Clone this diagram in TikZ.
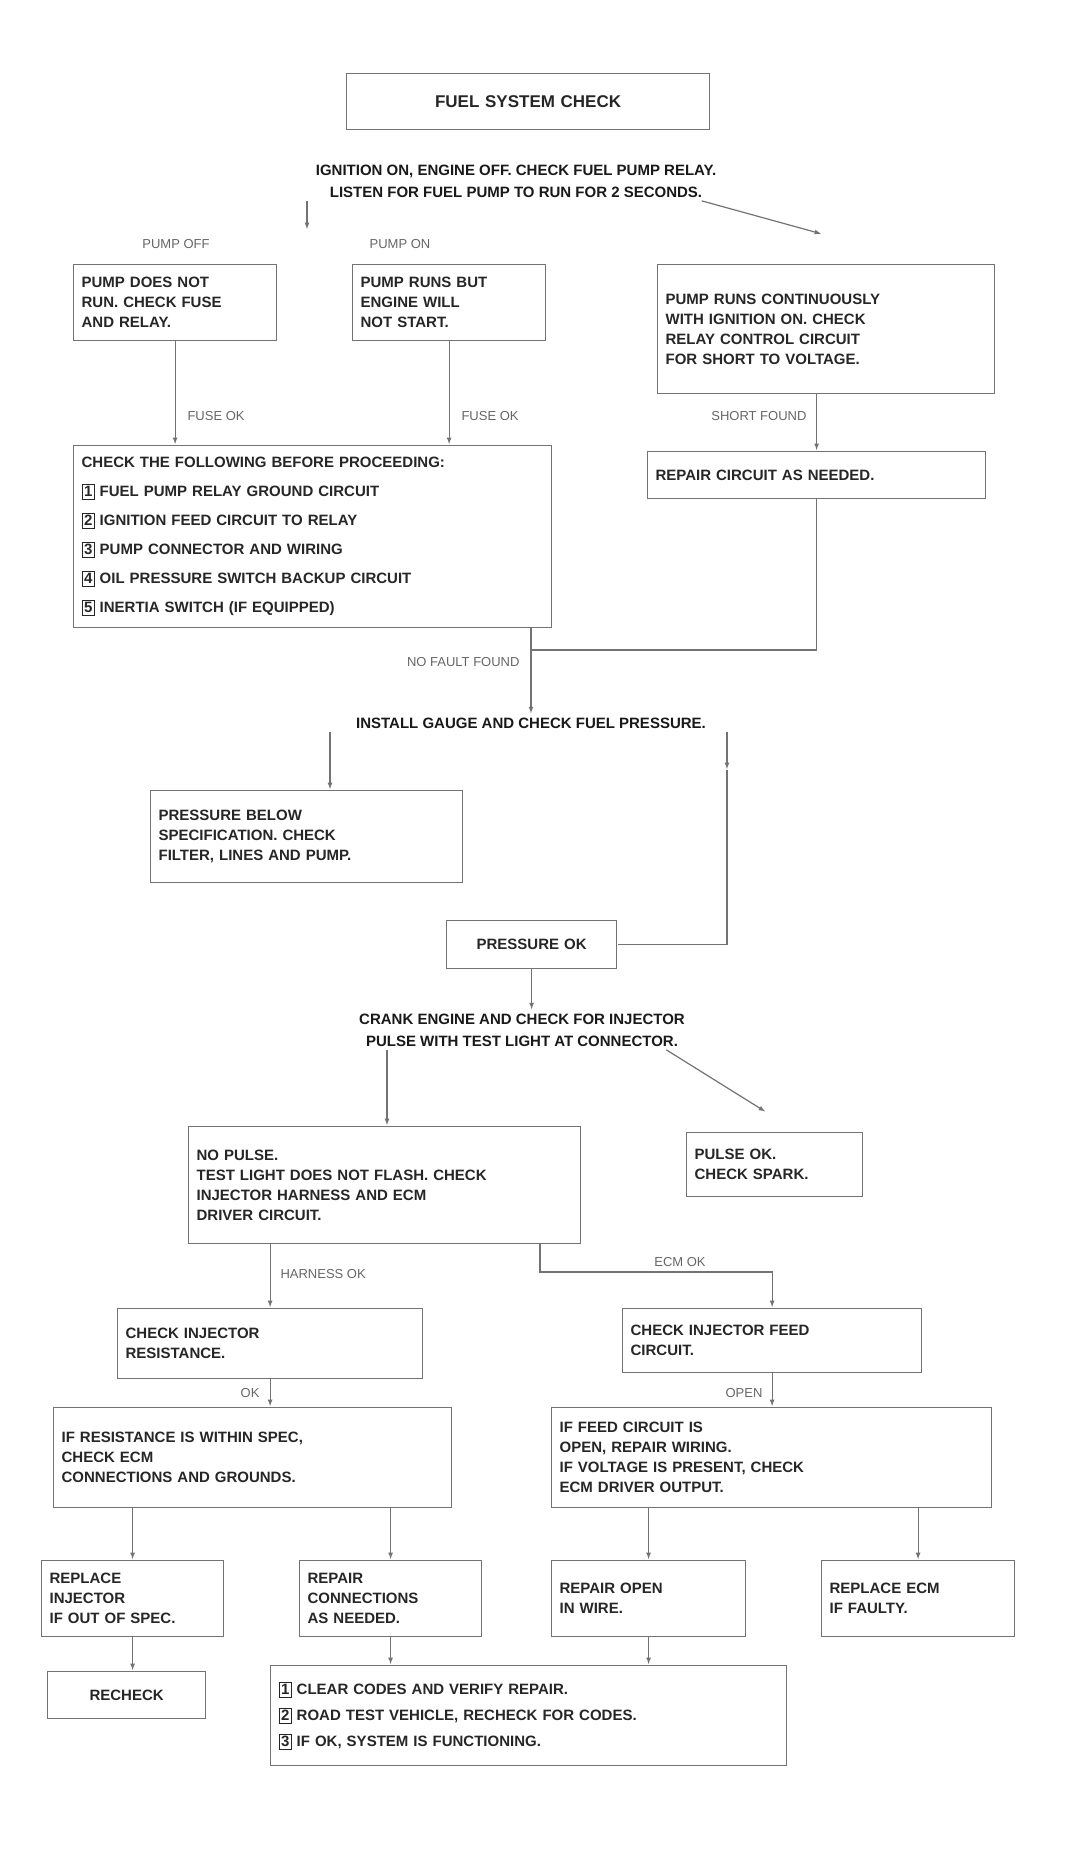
\documentclass[tikz,border=0pt]{standalone}
\usepackage{fontspec}
\setmainfont{Liberation Sans}
\usetikzlibrary{positioning}
\setlength{\fboxsep}{2pt}

\begin{document}
\begin{tikzpicture}[x=1pt,y=-1pt,>=latex,shorten >=1pt,
   box/.style={draw=black!55,line width=1.2pt,anchor=north west,align=left,inner xsep=8pt,inner ysep=5pt,
     font=\bfseries\fontsize{15}{20}\selectfont,text=black!85},
   ask/.style={align=center,font=\bfseries\fontsize{15}{22}\selectfont,text=black!90},
   tag/.style={font=\fontsize{13}{16}\selectfont,text=black!60},
   wire/.style={draw=black!55,line width=1.2pt}]
   \useasboundingbox (0,0) rectangle (1073,1873);

   \node[box,align=center,font=\bfseries\fontsize{17}{20}\selectfont,text width=347pt,minimum height=56pt] (title) at (346,73) {FUEL SYSTEM CHECK};
   \node[ask] (q1) at (516,181) {IGNITION ON, ENGINE OFF. CHECK FUEL PUMP RELAY.\\ LISTEN FOR FUEL PUMP TO RUN FOR 2 SECONDS.};

   % first row
   \node[tag] (t1) at (176,244) {PUMP OFF};
   \node[tag] (t2) at (400,244) {PUMP ON};
   \node[box,text width=187pt,minimum height=76pt] (b1) at (73,264) {PUMP DOES NOT\\ RUN. CHECK FUSE\\ AND RELAY.};
   \node[box,text width=177pt,minimum height=76pt] (b2) at (352,264) {PUMP RUNS BUT\\ ENGINE WILL\\ NOT START.};
   \node[box,text width=321pt,minimum height=129pt] (b3) at (657,264) {PUMP RUNS CONTINUOUSLY\\ WITH IGNITION ON. CHECK\\ RELAY CONTROL CIRCUIT\\ FOR SHORT TO VOLTAGE.};
   \coordinate (s1) at (307,230);
   \coordinate (s2) at (822,234);
   \draw[wire,->] (q1.south -| s1) -- (s1);
   \draw[wire,->] ([xshift=-18pt]q1.south east) -- (s2);

   % checks
   \node[box,text width=462pt,minimum height=182pt,font=\bfseries\fontsize{15}{29}\selectfont] (b5) at (73,445)
     {CHECK THE FOLLOWING BEFORE PROCEEDING:\\
      \fbox{1} FUEL PUMP RELAY GROUND CIRCUIT\\
      \fbox{2} IGNITION FEED CIRCUIT TO RELAY\\
      \fbox{3} PUMP CONNECTOR AND WIRING\\
      \fbox{4} OIL PRESSURE SWITCH BACKUP CIRCUIT\\
      \fbox{5} INERTIA SWITCH (IF EQUIPPED)};
   \node[box,text width=322pt,minimum height=47pt] (b4) at (647,451) {REPAIR CIRCUIT AS NEEDED.};
   \draw[wire,->] (b1.south) -- (b1.south |- b5.north);
   \draw[wire,->] (b2.south) -- (b2.south |- b5.north);
   \draw[wire,->] (b3.south -| b4.north) -- (b4.north);
   \node[tag,anchor=west] at (184,416) {FUSE OK};
   \node[tag,anchor=west] at (458,416) {FUSE OK};
   \node[tag,anchor=east] at (810,416) {SHORT FOUND};

   % pressure
   \node[ask] (q2) at (531,723) {INSTALL GAUGE AND CHECK FUEL PRESSURE.};
   \coordinate (j1) at (531,650);
   \draw[wire] (b4.south) |- (j1);
   \draw[wire,->] (b5.south -| j1) -- (q2.north);
   \node[tag,anchor=east] at (523,662) {NO FAULT FOUND};
   \node[box,text width=296pt,minimum height=92pt] (b6) at (150,790) {PRESSURE BELOW\\ SPECIFICATION. CHECK\\ FILTER, LINES AND PUMP.};
   \node[box,align=center,text width=154pt,minimum height=48pt] (b7) at (446,920) {PRESSURE OK};
   \coordinate (a1) at (330,790);
   \coordinate (a2) at (727,770);
   \draw[wire,->] (q2.south -| a1) -- (a1);
   \draw[wire,->] (q2.south -| a2) -- (a2);
   \draw[wire] (a2) |- (b7.east);

   % injector pulse
   \node[ask] (q3) at (522,1030) {CRANK ENGINE AND CHECK FOR INJECTOR\\ PULSE WITH TEST LIGHT AT CONNECTOR.};
   \draw[wire,->] (b7.south) -- (b7.south |- q3.north);
   \node[box,text width=376pt,minimum height=117pt] (b8) at (188,1126) {NO PULSE.\\ TEST LIGHT DOES NOT FLASH. CHECK\\ INJECTOR HARNESS AND ECM\\ DRIVER CIRCUIT.};
   \node[box,text width=160pt,minimum height=64pt] (b9) at (686,1132) {PULSE OK.\\ CHECK SPARK.};
   \coordinate (a3) at (387,1126);
   \coordinate (a4) at (766,1112);
   \draw[wire,->] (q3.south -| a3) -- (a3);
   \draw[wire,->] ([xshift=-22pt]q3.south east) -- (a4);

   \node[box,text width=289pt,minimum height=70pt] (b10) at (117,1308) {CHECK INJECTOR\\ RESISTANCE.};
   \node[box,text width=283pt,minimum height=64pt] (b11) at (622,1308) {CHECK INJECTOR FEED\\ CIRCUIT.};
   \coordinate (k) at (540,1272);
   \draw[wire,->] (b8.south -| b10.north) -- (b10.north);
   \draw[wire,->] (b8.south -| k) -- (k) -| (b11.north);
   \node[tag,anchor=west] at (277,1274) {HARNESS OK};
   \node[tag,anchor=south] at (680,1270) {ECM OK};

   \node[box,text width=382pt,minimum height=100pt] (b12) at (53,1407) {IF RESISTANCE IS WITHIN SPEC,\\ CHECK ECM\\ CONNECTIONS AND GROUNDS.};
   \node[box,text width=424pt,minimum height=100pt] (b13) at (551,1407) {IF FEED CIRCUIT IS\\ OPEN, REPAIR WIRING.\\ IF VOLTAGE IS PRESENT, CHECK\\ ECM DRIVER OUTPUT.};
   \draw[wire,->] (b10.south) -- (b10.south |- b12.north);
   \draw[wire,->] (b11.south) -- (b11.south |- b13.north);
   \node[tag,anchor=east] at (263,1393) {OK};
   \node[tag,anchor=east] at (766,1393) {OPEN};

   % bottom row
   \node[box,text width=166pt,minimum height=76pt] (c1) at (41,1560) {REPLACE\\ INJECTOR\\ IF OUT OF SPEC.};
   \node[box,text width=166pt,minimum height=76pt] (c2) at (299,1560) {REPAIR\\ CONNECTIONS\\ AS NEEDED.};
   \node[box,text width=178pt,minimum height=76pt] (c3) at (551,1560) {REPAIR OPEN\\ IN WIRE.};
   \node[box,text width=177pt,minimum height=76pt] (c4) at (821,1560) {REPLACE ECM\\ IF FAULTY.};
   \draw[wire,->] (b12.south -| c1.north) -- (c1.north);
   \draw[wire,->] (b12.south -| c2.north) -- (c2.north);
   \draw[wire,->] (b13.south -| c3.north) -- (c3.north);
   \draw[wire,->] (b13.south -| c4.north) -- (c4.north);

   \node[box,align=center,text width=142pt,minimum height=47pt] (d1) at (47,1671) {RECHECK};
   \node[box,text width=500pt,minimum height=100pt,font=\bfseries\fontsize{15}{26}\selectfont] (d2) at (270,1665)
     {\fbox{1} CLEAR CODES AND VERIFY REPAIR.\\
      \fbox{2} ROAD TEST VEHICLE, RECHECK FOR CODES.\\
      \fbox{3} IF OK, SYSTEM IS FUNCTIONING.};
   \draw[wire,->] (c1.south) -- (c1.south |- d1.north);
   \draw[wire,->] (c2.south) -- (c2.south |- d2.north);
   \draw[wire,->] (c3.south) -- (c3.south |- d2.north);
\end{tikzpicture}
\end{document}
